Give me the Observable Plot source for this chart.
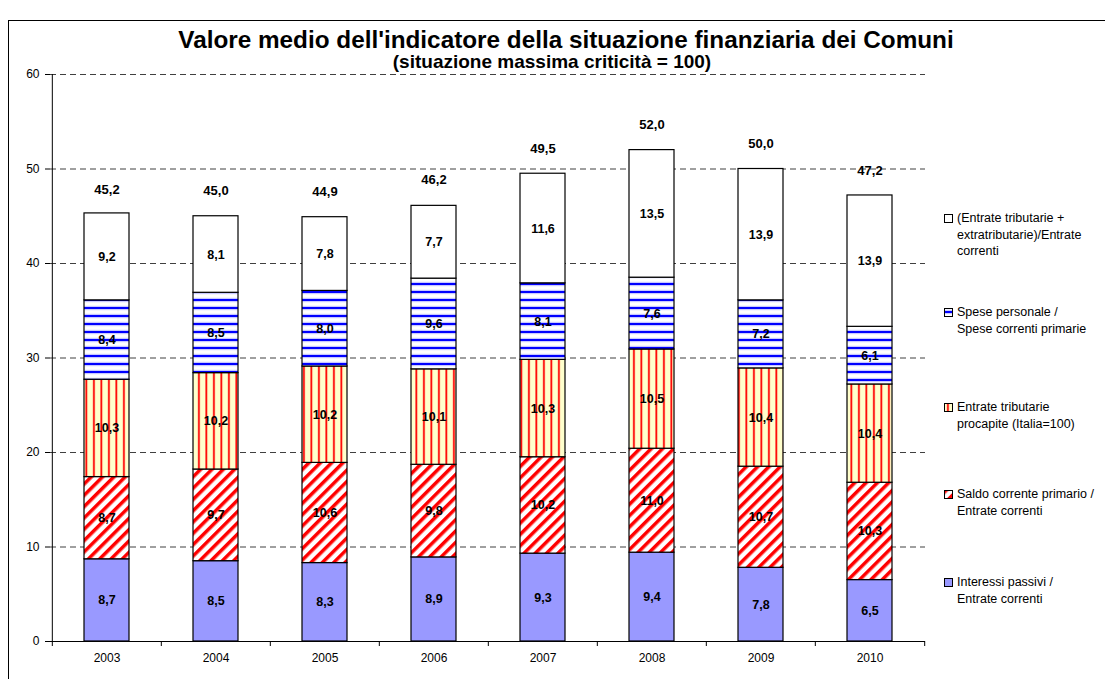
<!DOCTYPE html>
<html><head><meta charset="utf-8">
<script src="https://cdn.jsdelivr.net/npm/d3@7"></script>
<script src="https://cdn.jsdelivr.net/npm/@observablehq/plot@0.6"></script>
<style>
body{margin:0;background:#fff;font-family:"Liberation Sans",Arial,sans-serif;color:#000;}
#frame{position:absolute;left:8px;top:20px;width:1300px;height:800px;border:1.5px solid #000;box-sizing:border-box;}
#title{position:absolute;left:0;width:1132px;top:26px;text-align:center;font-weight:bold;font-size:24.3px;line-height:28px;}
#subtitle{position:absolute;left:0;width:1104px;top:52px;text-align:center;font-weight:bold;font-size:19px;line-height:20px;}
#chart{position:absolute;left:0;top:0;}
.leg{position:absolute;left:944px;font-size:12.5px;line-height:16.5px;}
.leg svg{position:absolute;left:0;top:4px;}
.leg div{margin-left:13px;white-space:nowrap;}
</style></head><body>
<svg style="position:absolute;width:0;height:0" aria-hidden="true">
<defs>
<pattern id="pSaldo" patternUnits="userSpaceOnUse" width="8" height="8" patternTransform="rotate(45)">
<rect width="8" height="8" fill="#fff"/>
<rect width="3.5" height="8" fill="#ff0000"/>
</pattern>
<pattern id="pTrib" patternUnits="userSpaceOnUse" width="7.5" height="10">
<rect width="7.5" height="10" fill="#FFFFCC"/>
<rect x="3" width="1.8" height="10" fill="#ff0000"/>
</pattern>
<pattern id="pSpese" patternUnits="userSpaceOnUse" width="10" height="8">
<rect width="10" height="8" fill="#fff"/>
<rect y="1.8" width="10" height="4.4" fill="#C8C8FF"/>
<rect y="3" width="10" height="2" fill="#0000FF"/>
</pattern>
</defs>
</svg>
<div id="frame"></div>
<div id="chart"></div>
<div id="title">Valore medio dell'indicatore della situazione finanziaria dei Comuni</div>
<div id="subtitle">(situazione massima criticità = 100)</div>
<div id="legend"></div>
<script>
const years = ["2003","2004","2005","2006","2007","2008","2009","2010"];
const seriesNames = [
  "Interessi passivi / Entrate correnti",
  "Saldo corrente primario Entrate correnti",
  "Entrate tributarie procapite (Italia=100)",
  "Spese personale / Spese correnti primarie",
  "(Entrate tributarie + extratributarie)/Entrate correnti"
];
const interessi = [8.7,8.5,8.3,8.9,9.3,9.4,7.8,6.5];
const saldo = [8.7,9.7,10.6,9.8,10.2,11.0,10.7,10.3];
const tributarie = [10.3,10.2,10.2,10.1,10.3,10.5,10.4,10.4];
const spese = [8.4,8.5,8.0,9.6,8.1,7.6,7.2,6.1];
const entrate = [9.2,8.1,7.8,7.7,11.6,13.5,13.9,13.9];
const totals = [45.2,45.0,44.9,46.2,49.5,52.0,50.0,47.2];
const yTicks = [0,10,20,30,40,50,60];
const legendLines = [
  ["(Entrate tributarie +","extratributarie)/Entrate","correnti"],
  ["Spese personale /","Spese correnti primarie"],
  ["Entrate tributarie","procapite (Italia=100)"],
  ["Saldo corrente primario /","Entrate correnti"],
  ["Interessi passivi /","Entrate correnti"]
];
const fills = ["#9999FF","url(#pSaldo)","url(#pTrib)","url(#pSpese)","#FFFFFF"];

const seriesValues = [interessi, saldo, tributarie, spese, entrate];
const rows = [];
seriesNames.forEach((s, si) => years.forEach((y, i) => rows.push({year: y, series: s, value: seriesValues[si][i]})));
const totalRows = years.map((y, i) => ({year: y, total: totals[i]}));
const fmt = v => d3.format(".1f")(v).replace(".", ",");

const W = 940, H = 679, ML = 50, MR = 15;
const step = (W - ML - MR) / years.length;

const chart = Plot.plot({
  width: W, height: H,
  marginTop: 74, marginBottom: 38, marginLeft: ML, marginRight: MR,
  style: {fontFamily: "'Liberation Sans', Arial, sans-serif", fontSize: "12px", background: "transparent", color: "#000"},
  x: {domain: years, paddingInner: 0.59, paddingOuter: 0.295, axis: null},
  y: {domain: [0, 60], axis: null},
  color: {domain: seriesNames, range: fills},
  marks: [
    Plot.gridY({ticks: yTicks.slice(1), stroke: "#000", strokeOpacity: 0.75, strokeDasharray: "6,4"}),
    Plot.barY(rows, {x: "year", y: "value", fill: "series", stroke: "#000", strokeWidth: 1.2}),
    Plot.text(rows, Plot.stackY({x: "year", y: "value", z: "series", text: d => fmt(d.value), fontWeight: "bold", fontSize: 12.5, fill: "#000"})),
    Plot.text(totalRows, {x: "year", y: "total", text: d => fmt(d.total), dy: -25, fontWeight: "bold", fontSize: 13, fill: "#000"}),
    Plot.ruleY([0], {stroke: "#000"}),
    Plot.ruleX([years[0]], {y1: 0, y2: 60, dx: -step / 2, stroke: "#000"}),
    Plot.axisY({ticks: yTicks, tickSize: 5, tickPadding: 6, label: null, tickFormat: d => d, fontSize: 12}),
    Plot.axisX({tickSize: 0, tickPadding: 12, label: null, fontSize: 12}),
    Plot.axisX({ticks: years, tickSize: 5, text: null, label: null, dx: -step / 2}),
    Plot.axisX({ticks: [years[years.length - 1]], tickSize: 5, text: null, label: null, dx: step / 2})
  ]
});
document.getElementById("chart").appendChild(chart);

const legTops = [210, 304, 399, 486, 574];
const legend = document.getElementById("legend");
legendLines.forEach((lines, i) => {
  const el = document.createElement("div");
  el.className = "leg";
  el.style.top = legTops[i] + "px";
  const fill = fills[fills.length - 1 - i];
  el.innerHTML = `<svg width="9" height="9"><rect x="0.5" y="0.5" width="8" height="8" fill="${fill}" stroke="#000" stroke-width="1"/></svg>` +
    lines.map(l => `<div>${l}</div>`).join("");
  legend.appendChild(el);
});
</script>
</body></html>
